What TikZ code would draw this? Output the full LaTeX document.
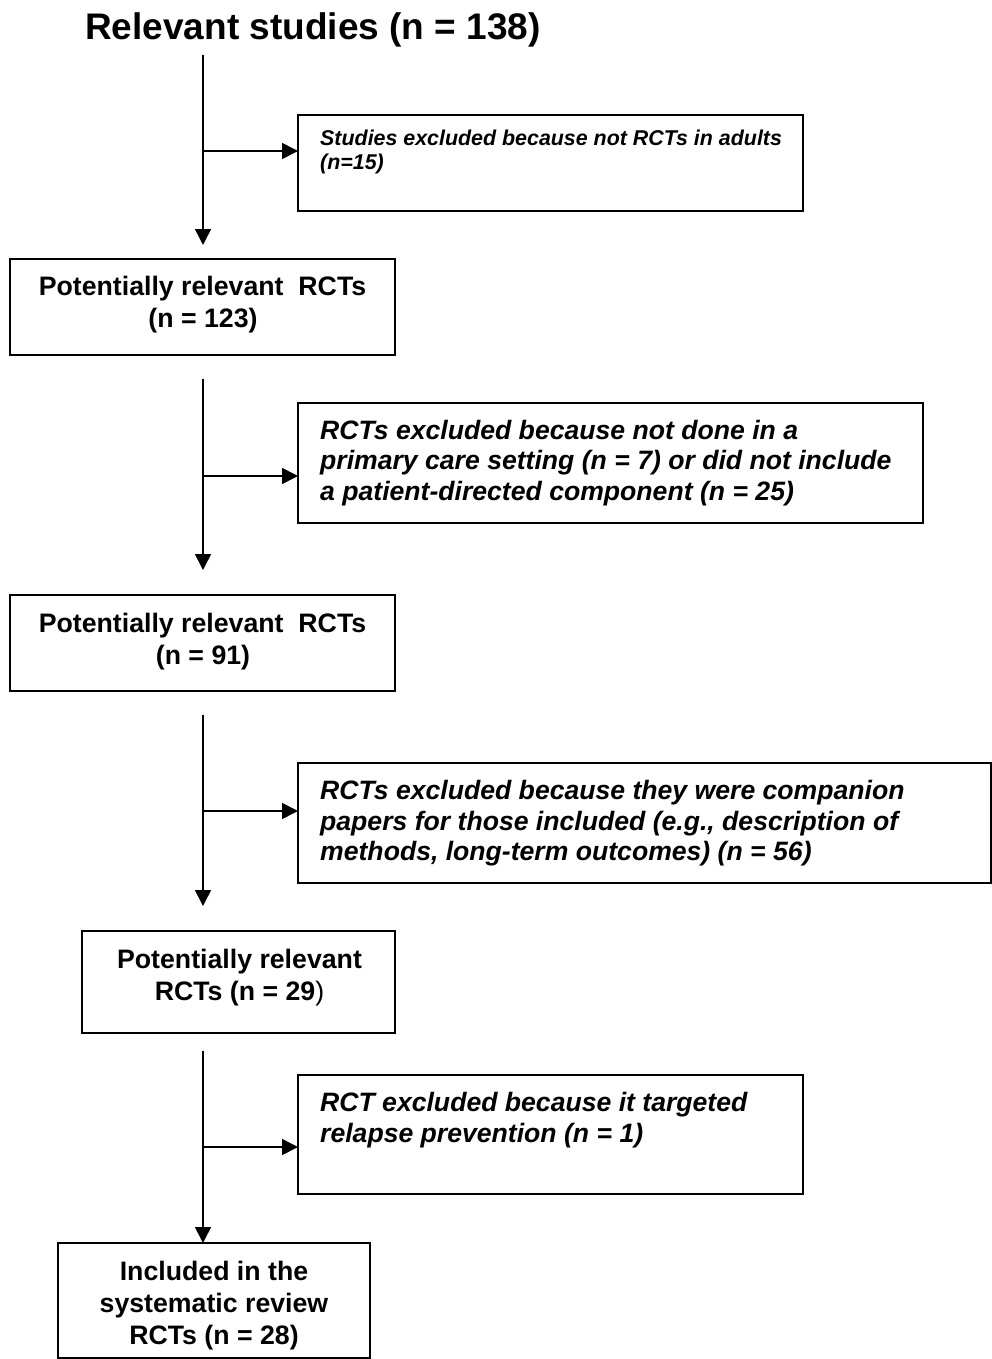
\documentclass[tikz,border=0pt]{standalone}
\usepackage{fontspec}
\setmainfont{Liberation Sans}
\usetikzlibrary{arrows.meta}
\begin{document}
\begin{tikzpicture}[x=1pt,y=-1pt,
  box/.style={draw, line width=1.8pt, anchor=north west, inner sep=0pt, outer sep=0pt},
  conn/.style={line width=1.6pt, -{Triangle[width=16pt,length=16pt]}},
  mainline/.style={inner sep=0pt, anchor=base, font=\fontsize{26.7}{32}\selectfont\bfseries},
  exline/.style={inner sep=0pt, anchor=base west, font=\fontsize{26.6}{32}\selectfont\bfseries\itshape},
  smallex/.style={inner sep=0pt, anchor=base west, font=\fontsize{21.4}{24}\selectfont\bfseries\itshape},
  titlestyle/.style={inner sep=0pt, anchor=base, font=\fontsize{37}{44}\selectfont\bfseries}]
\useasboundingbox (0,0) rectangle (991,1359);

% title
\node[titlestyle] (title) at (313,40) {Relevant studies (n = 138)};

% boxes
\node[box, minimum width=505pt, minimum height=96pt] (b1) at (298,115) {};
\node[box, minimum width=385pt, minimum height=96pt] (b2) at (10,259) {};
\node[box, minimum width=625pt, minimum height=120pt] (b3) at (298,403) {};
\node[box, minimum width=385pt, minimum height=96pt] (b4) at (10,595) {};
\node[box, minimum width=693pt, minimum height=120pt] (b5) at (298,763) {};
\node[box, minimum width=313pt, minimum height=102pt] (b6) at (82,931) {};
\node[box, minimum width=505pt, minimum height=119pt] (b7) at (298,1075) {};
\node[box, minimum width=312pt, minimum height=115pt] (b8) at (58,1243) {};

% texts
\node[smallex] (b1t1) at (320,146) {Studies excluded because not RCTs in adults};
\node[smallex] (b1t2) at (320,170) {(n=15)};

\node[mainline] (b2t1) at (202.5,295) {Potentially relevant\ \ RCTs};
\node[mainline] (b2t2) at (203,327) {(n = 123)};

\node[exline] (b3t1) at (320,439) {RCTs excluded because not done in a};
\node[exline] (b3t2) at (320,469.5) {primary care setting (n = 7) or did not include};
\node[exline] (b3t3) at (320,500) {a patient-directed component (n = 25)};

\node[mainline] (b4t1) at (202.5,632) {Potentially relevant\ \ RCTs};
\node[mainline] (b4t2) at (203,664) {(n = 91)};

\node[exline] (b5t1) at (320,799) {RCTs excluded because they were companion};
\node[exline] (b5t2) at (320,830) {papers for those included (e.g., description of};
\node[exline] (b5t3) at (320,860) {methods, long-term outcomes) (n = 56)};

\node[mainline] (b6t1) at (239.5,968) {Potentially relevant};
\node[mainline] (b6t2) at (239.5,1000) {RCTs (n = 29{\mdseries )}};

\node[exline] (b7t1) at (320,1111) {RCT excluded because it targeted};
\node[exline] (b7t2) at (320,1142) {relapse prevention (n = 1)};

\node[mainline] (b8t1) at (214,1280) {Included in the};
\node[mainline] (b8t2) at (214,1312) {systematic review};
\node[mainline] (b8t3) at (214,1344) {RCTs (n = 28)};

% connectors
\coordinate (s1) at (203,55);
\coordinate (j1) at (203,151);
\coordinate (e1) at (203,245);
\draw[conn] (s1) -- (e1);
\draw[conn] (j1) -- (j1 -| b1.west);

\coordinate (s2) at (203,379);
\coordinate (j2) at (203,476);
\coordinate (e2) at (203,570);
\draw[conn] (s2) -- (e2);
\draw[conn] (j2) -- (j2 -| b3.west);

\coordinate (s3) at (203,715);
\coordinate (j3) at (203,811);
\coordinate (e3) at (203,906);
\draw[conn] (s3) -- (e3);
\draw[conn] (j3) -- (j3 -| b5.west);

\coordinate (s4) at (203,1051);
\coordinate (j4) at (203,1147);
\draw[conn] (s4) -- (s4 |- b8.north);
\draw[conn] (j4) -- (j4 -| b7.west);
\end{tikzpicture}
\end{document}
